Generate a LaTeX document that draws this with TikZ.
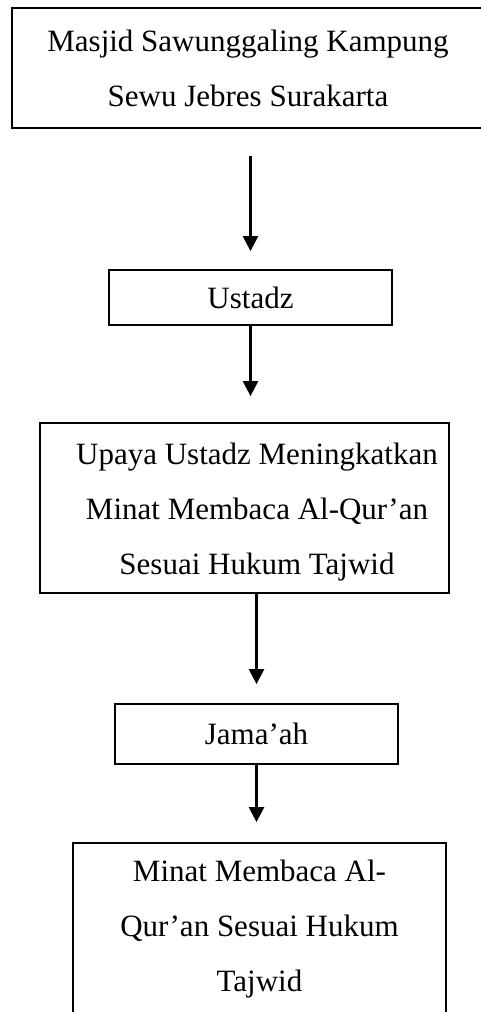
\documentclass[tikz,border=0pt]{standalone}
\usepackage{fontspec}
\setmainfont{Liberation Serif}
\usetikzlibrary{arrows.meta}

\begin{document}
\begin{tikzpicture}[x=1pt,y=-1pt,
        kotak/.style={draw,line width=1.8pt,align=center,inner sep=0pt},
        panah/.style={-{Triangle[length=15pt,width=15pt]},line width=2.5pt},
        font=\fontsize{31}{55}\selectfont]
        \useasboundingbox (0,0) rectangle (481,1012);
        \node[kotak,minimum width=472pt,minimum height=120pt] (masjid) at (248,68) {Masjid Sawunggaling Kampung\\Sewu Jebres Surakarta};
        \node[kotak,minimum width=283pt,minimum height=55pt] (ustadz) at (250.5,297.5) {Ustadz};
        \node[kotak,minimum width=409pt,minimum height=170pt] (upaya) at (244.5,508) {\hspace*{25pt}\begin{tabular}{@{}c@{}}Upaya Ustadz Meningkatkan\\Minat Membaca Al-Qur’an\\Sesuai Hukum Tajwid\end{tabular}};
        \node[kotak,minimum width=283pt,minimum height=60pt] (jamaah) at (256.5,734) {Jama’ah};
        \node[kotak,minimum width=373pt,minimum height=172pt] (minat) at (259.5,929) {Minat Membaca Al-\\Qur’an Sesuai Hukum\\Tajwid};
        \draw[panah,shorten <=27pt,shorten >=18pt] (masjid.south -| ustadz.north) -- (ustadz.north);
        \draw[panah,shorten >=26pt] (ustadz.south) -- (ustadz.south |- upaya.north);
        \draw[panah,shorten >=19pt] (upaya.south -| jamaah.north) -- (jamaah.north);
        \draw[panah,shorten >=20pt] (jamaah.south) -- (jamaah.south |- minat.north);
    \end{tikzpicture}
\end{document}
